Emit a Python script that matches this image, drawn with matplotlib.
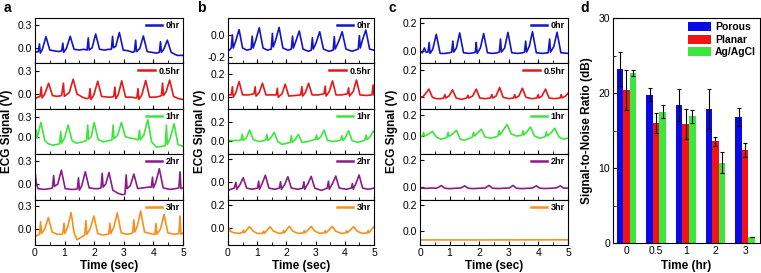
import matplotlib
matplotlib.use("Agg")
import matplotlib.pyplot as plt
from matplotlib.lines import Line2D
from matplotlib.ticker import MultipleLocator
import numpy as np

plt.rcParams['font.family'] = ['Liberation Sans', 'DejaVu Sans']
plt.rcParams['axes.unicode_minus'] = False

# ---- ECG traces, (time s, signal V) vertices ----
a_0hr = [(0.0, -0.06), (0.11, -0.05), (0.15, 0.05), (0.18, -0.07), (0.25, -0.02), (0.37, 0.145), (0.5, -0.03),
         (0.65, -0.04), (0.8, -0.05), (0.90, -0.04), (0.94, 0.06), (0.97, -0.06), (1.06, -0.01), (1.19, 0.15),
         (1.32, -0.02), (1.5, -0.03), (1.65, -0.02), (1.76, -0.03), (1.80, 0.13), (1.83, -0.03), (1.93, 0.0),
         (2.05, 0.18), (2.18, -0.02), (2.35, -0.03), (2.5, -0.02), (2.58, -0.02), (2.62, 0.15), (2.65, 0.0),
         (2.73, 0.02), (2.85, 0.20), (2.98, -0.03), (3.15, -0.04), (3.3, -0.06), (3.36, -0.05), (3.40, 0.10),
         (3.43, -0.05), (3.54, -0.01), (3.66, 0.155), (3.79, -0.05), (3.95, -0.06), (4.1, -0.07), (4.20, -0.06),
         (4.24, 0.08), (4.27, -0.06), (4.35, -0.02), (4.47, 0.10), (4.6, -0.06), (4.8, -0.10), (5.0, -0.10)]
a_05hr = [(0.0, -0.06), (0.1, -0.04), (0.17, -0.03), (0.21, 0.09), (0.24, -0.05), (0.33, 0.0), (0.46, 0.14),
          (0.59, -0.02), (0.75, -0.03), (0.9, -0.02), (0.96, 0.14), (0.99, -0.03), (1.16, 0.02), (1.29, 0.19),
          (1.42, 0.0), (1.6, -0.04), (1.75, -0.06), (1.82, -0.05), (1.86, 0.07), (1.89, -0.07), (1.99, -0.01),
          (2.12, 0.165), (2.25, -0.03), (2.45, -0.04), (2.6, -0.04), (2.66, -0.03), (2.70, 0.09), (2.73, -0.06),
          (2.81, -0.01), (2.93, 0.17), (3.06, -0.04), (3.25, -0.04), (3.4, -0.05), (3.44, -0.05), (3.48, 0.07),
          (3.51, -0.07), (3.61, -0.01), (3.74, 0.175), (3.87, -0.04), (4.05, -0.04), (4.2, -0.03), (4.27, -0.02),
          (4.31, 0.14), (4.34, -0.02), (4.43, 0.03), (4.55, 0.18), (4.68, -0.03), (4.85, -0.06), (5.0, -0.07)]
a_1hr = [(0.0, 0.0), (0.04, 0.10), (0.07, -0.02), (0.2, 0.22), (0.33, -0.06), (0.45, -0.11), (0.6, -0.13),
         (0.75, -0.12), (0.83, -0.11), (0.87, 0.08), (0.9, -0.10), (1.0, -0.02), (1.12, 0.18), (1.25, -0.06),
         (1.4, -0.1), (1.6, -0.08), (1.74, -0.06), (1.78, 0.18), (1.81, -0.04), (1.9, 0.0), (2.0, 0.22),
         (2.13, -0.04), (2.3, -0.08), (2.5, -0.06), (2.6, -0.05), (2.64, 0.18), (2.67, -0.03), (2.79, 0.02),
         (2.92, 0.22), (3.05, 0.0), (3.2, -0.02), (3.35, -0.03), (3.49, -0.05), (3.53, 0.10), (3.56, -0.05),
         (3.68, 0.03), (3.81, 0.26), (3.94, -0.08), (4.1, -0.16), (4.3, -0.15), (4.4, -0.14), (4.44, 0.18),
         (4.47, -0.12), (4.57, -0.02), (4.7, 0.20), (4.83, -0.12), (5.0, -0.15)]
a_2hr = [(0.0, 0.16), (0.04, 0.02), (0.1, -0.06), (0.3, -0.07), (0.5, -0.06), (0.59, -0.05), (0.63, 0.11),
         (0.66, -0.03), (0.77, 0.0), (0.89, 0.18), (1.02, -0.06), (1.2, -0.07), (1.35, -0.07), (1.43, -0.06),
         (1.47, 0.08), (1.5, -0.08), (1.58, -0.02), (1.70, 0.16), (1.83, -0.05), (2.0, -0.06), (2.15, -0.06),
         (2.23, -0.05), (2.27, 0.14), (2.30, -0.04), (2.39, 0.0), (2.50, 0.15), (2.63, -0.08), (2.8, -0.12),
         (2.95, -0.14), (3.04, -0.13), (3.08, 0.12), (3.11, -0.06), (3.22, -0.02), (3.34, 0.13), (3.47, -0.06),
         (3.65, -0.05), (3.85, -0.04), (3.93, -0.04), (3.97, 0.09), (4.0, -0.05), (4.08, 0.02), (4.2, 0.20),
         (4.33, -0.05), (4.55, -0.07), (4.75, -0.06), (4.86, -0.05), (4.9, 0.16), (4.93, -0.06), (5.0, -0.05)]
a_3hr = [(0.0, -0.10), (0.1, -0.08), (0.15, -0.07), (0.19, 0.095), (0.22, -0.06), (0.33, 0.0), (0.45, 0.15),
         (0.58, -0.04), (0.75, -0.07), (0.9, -0.07), (0.94, -0.06), (0.98, 0.075), (1.01, -0.06), (1.1, 0.02),
         (1.22, 0.215), (1.32, -0.05), (1.42, -0.14), (1.55, -0.11), (1.68, -0.08), (1.72, 0.11), (1.75, -0.07),
         (1.86, 0.0), (1.99, 0.17), (2.12, -0.06), (2.3, -0.08), (2.45, -0.07), (2.49, -0.07), (2.53, 0.075),
         (2.56, -0.06), (2.66, 0.02), (2.78, 0.21), (2.91, -0.05), (3.1, -0.07), (3.25, -0.06), (3.3, -0.05),
         (3.34, 0.12), (3.37, -0.04), (3.46, 0.04), (3.57, 0.235), (3.7, -0.04), (3.9, -0.06), (4.02, -0.07),
         (4.05, -0.07), (4.09, 0.07), (4.12, -0.07), (4.24, 0.0), (4.36, 0.19), (4.49, -0.05), (4.7, -0.07),
         (4.86, -0.06), (4.9, 0.17), (4.93, -0.07), (5.0, -0.05)]

b_0hr = [(0.0, -0.13), (0.05, -0.14), (0.11, -0.12), (0.15, 0.0), (0.18, -0.12), (0.26, -0.06), (0.38, 0.05),
         (0.5, -0.12), (0.65, -0.14), (0.79, -0.13), (0.83, -0.01), (0.86, -0.12), (0.95, -0.05), (1.07, 0.067),
         (1.2, -0.12), (1.35, -0.14), (1.48, -0.13), (1.52, 0.015), (1.55, -0.11), (1.63, -0.05), (1.75, 0.07),
         (1.88, -0.12), (2.05, -0.14), (2.17, -0.13), (2.21, -0.01), (2.24, -0.12), (2.32, -0.06), (2.44, 0.037),
         (2.57, -0.13), (2.75, -0.15), (2.85, -0.14), (2.89, -0.025), (2.92, -0.13), (3.02, -0.07), (3.14, 0.03),
         (3.27, -0.13), (3.45, -0.15), (3.6, -0.14), (3.64, -0.015), (3.67, -0.13), (3.79, -0.06), (3.91, 0.03),
         (4.04, -0.13), (4.25, -0.15), (4.46, -0.13), (4.5, -0.005), (4.53, -0.12), (4.6, -0.05), (4.72, 0.046),
         (4.85, -0.13), (5.0, -0.14)]
b_05hr = [(0.0, 0.02), (0.11, 0.02), (0.15, 0.09), (0.18, 0.0), (0.27, 0.04), (0.38, 0.135), (0.5, 0.02),
          (0.7, 0.02), (0.89, 0.03), (0.93, 0.09), (0.96, 0.01), (1.07, 0.04), (1.18, 0.12), (1.3, 0.02),
          (1.5, 0.02), (1.65, 0.02), (1.69, 0.077), (1.72, 0.0), (1.85, 0.03), (1.96, 0.112), (2.08, 0.01),
          (2.3, 0.015), (2.49, 0.02), (2.53, 0.09), (2.56, 0.01), (2.65, 0.04), (2.76, 0.12), (2.88, 0.02),
          (3.1, 0.02), (3.29, 0.03), (3.33, 0.095), (3.36, 0.01), (3.47, 0.05), (3.58, 0.14), (3.7, 0.02),
          (3.9, 0.02), (4.09, 0.03), (4.13, 0.08), (4.16, 0.01), (4.29, 0.05), (4.4, 0.148), (4.52, 0.02),
          (4.75, 0.015), (4.93, 0.02), (4.97, 0.105), (5.0, 0.02)]
b_1hr = [(0.0, 0.0), (0.2, 0.0), (0.4, 0.0), (0.45, 0.01), (0.49, 0.065), (0.52, 0.0), (0.63, 0.03), (0.74, 0.11),
         (0.86, 0.01), (1.05, -0.01), (1.25, 0.0), (1.29, 0.01), (1.33, 0.065), (1.36, 0.0), (1.47, 0.03),
         (1.58, 0.086), (1.7, -0.01), (1.85, -0.04), (2.0, -0.03), (2.13, -0.02), (2.17, 0.05), (2.2, -0.02),
         (2.3, 0.01), (2.41, 0.065), (2.53, -0.02), (2.75, -0.01), (2.95, 0.01), (2.99, 0.01), (3.03, 0.058),
         (3.06, 0.01), (3.18, 0.04), (3.29, 0.11), (3.41, 0.0), (3.6, -0.01), (3.82, 0.0), (3.86, 0.01),
         (3.9, 0.05), (3.93, 0.0), (4.02, 0.03), (4.13, 0.103), (4.25, 0.0), (4.45, -0.02), (4.65, 0.0),
         (4.69, 0.01), (4.73, 0.058), (4.76, 0.01), (4.87, 0.04), (4.98, 0.10), (5.0, 0.09)]
b_2hr = [(0.0, -0.07), (0.1, -0.06), (0.21, -0.05), (0.27, 0.0), (0.3, -0.06), (0.41, -0.02), (0.52, 0.04),
         (0.64, -0.05), (0.82, -0.06), (1.01, -0.05), (1.05, 0.01), (1.08, -0.06), (1.17, -0.01), (1.28, 0.062),
         (1.4, -0.05), (1.6, -0.06), (1.76, -0.05), (1.8, 0.005), (1.83, -0.06), (1.94, -0.02), (2.05, 0.049),
         (2.17, -0.05), (2.4, -0.06), (2.56, -0.05), (2.6, 0.005), (2.63, -0.06), (2.74, -0.01), (2.85, 0.052),
         (2.97, -0.05), (3.2, -0.07), (3.4, -0.05), (3.44, 0.01), (3.47, -0.06), (3.58, -0.01), (3.69, 0.055),
         (3.81, -0.05), (4.05, -0.06), (4.22, -0.05), (4.26, -0.01), (4.29, -0.06), (4.38, -0.01), (4.49, 0.064),
         (4.61, -0.05), (4.8, -0.06), (5.0, -0.05)]
b_3hr = [(0.0, 0.005), (0.08, -0.03), (0.2, -0.045), (0.4, -0.05), (0.5, -0.04), (0.53, -0.02), (0.56, -0.045),
         (0.64, -0.02), (0.74, 0.01), (0.86, -0.03), (1.0, -0.05), (1.18, -0.05), (1.22, -0.03), (1.25, -0.05),
         (1.34, -0.02), (1.44, 0.008), (1.56, -0.03), (1.75, -0.05), (1.87, -0.045), (1.9, -0.025), (1.93, -0.045),
         (2.0, -0.02), (2.1, 0.012), (2.22, -0.03), (2.4, -0.05), (2.58, -0.045), (2.61, -0.025), (2.64, -0.045),
         (2.74, -0.02), (2.85, 0.012), (2.97, -0.03), (3.15, -0.05), (3.3, -0.045), (3.33, -0.025), (3.36, -0.045),
         (3.46, -0.02), (3.57, 0.012), (3.69, -0.03), (3.88, -0.05), (4.03, -0.045), (4.06, -0.025), (4.09, -0.045),
         (4.19, -0.02), (4.3, 0.01), (4.42, -0.03), (4.6, -0.05), (4.77, -0.045), (4.8, -0.025), (4.83, -0.045),
         (4.9, -0.02), (5.0, 0.01)]

c_0hr = [(0.0, -0.01), (0.08, -0.015), (0.15, 0.02), (0.2, -0.01), (0.27, -0.01), (0.31, 0.06), (0.34, -0.02),
         (0.43, 0.01), (0.55, 0.12), (0.68, -0.02), (0.85, -0.02), (1.0, -0.015), (1.07, -0.01), (1.11, 0.07),
         (1.14, -0.01), (1.23, 0.02), (1.34, 0.13), (1.47, -0.015), (1.65, -0.02), (1.83, -0.015), (1.87, -0.01),
         (1.9, 0.06), (1.93, -0.02), (2.04, 0.02), (2.15, 0.125), (2.28, -0.015), (2.45, -0.02), (2.62, -0.015),
         (2.68, -0.01), (2.72, 0.085), (2.75, -0.01), (2.86, 0.02), (2.97, 0.134), (3.1, -0.015), (3.3, -0.02),
         (3.48, -0.015), (3.53, -0.01), (3.57, 0.07), (3.6, -0.01), (3.69, 0.03), (3.8, 0.139), (3.93, -0.015),
         (4.15, -0.02), (4.33, -0.015), (4.38, 0.085), (4.41, -0.01), (4.52, 0.03), (4.63, 0.135), (4.76, -0.015),
         (5.0, -0.02)]
c_05hr = [(0.0, 0.0), (0.1, 0.005), (0.16, 0.02), (0.3, 0.06), (0.42, 0.0), (0.55, -0.01), (0.7, -0.01),
          (0.8, -0.005), (0.84, 0.02), (0.87, -0.005), (0.98, 0.01), (1.1, 0.055), (1.22, -0.005), (1.4, -0.015),
          (1.58, -0.005), (1.62, 0.015), (1.65, -0.005), (1.78, 0.01), (1.9, 0.06), (2.02, -0.005), (2.2, -0.01),
          (2.38, -0.005), (2.43, 0.02), (2.46, -0.005), (2.57, 0.01), (2.69, 0.072), (2.81, 0.0), (3.0, -0.01),
          (3.16, -0.005), (3.2, 0.02), (3.23, -0.005), (3.34, 0.01), (3.46, 0.066), (3.58, 0.0), (3.78, -0.01),
          (3.95, -0.005), (3.99, 0.02), (4.02, -0.005), (4.12, 0.01), (4.24, 0.06), (4.36, -0.005), (4.55, -0.01),
          (4.73, -0.005), (4.77, 0.02), (4.8, -0.005), (4.92, 0.01), (5.0, 0.03)]
c_1hr = [(0.0, 0.0), (0.08, -0.005), (0.12, 0.035), (0.15, 0.0), (0.3, 0.02), (0.42, 0.045), (0.55, -0.01),
         (0.7, -0.03), (0.85, -0.02), (0.91, -0.01), (0.95, 0.035), (0.98, -0.005), (1.1, 0.02), (1.23, 0.055),
         (1.36, -0.03), (1.5, -0.04), (1.7, -0.02), (1.77, -0.01), (1.81, 0.035), (1.84, 0.0), (1.95, 0.03),
         (2.07, 0.065), (2.2, -0.01), (2.4, -0.02), (2.6, -0.005), (2.63, 0.0), (2.67, 0.05), (2.7, 0.01),
         (2.82, 0.06), (2.94, 0.11), (3.08, 0.02), (3.25, 0.0), (3.42, 0.005), (3.45, 0.01), (3.48, 0.05),
         (3.51, 0.01), (3.61, 0.04), (3.73, 0.085), (3.87, 0.0), (4.05, -0.02), (4.2, -0.01), (4.24, 0.0),
         (4.27, 0.04), (4.3, 0.0), (4.43, 0.03), (4.55, 0.075), (4.7, -0.01), (4.85, -0.03), (5.0, -0.02)]
c_2hr = [(0.0, -0.01), (0.2, -0.013), (0.4, -0.01), (0.55, -0.012), (0.62, -0.005), (0.72, 0.008), (0.84, -0.012),
         (1.0, -0.015), (1.2, -0.012), (1.38, -0.01), (1.51, 0.006), (1.63, -0.012), (1.8, -0.015), (2.0, -0.012),
         (2.2, -0.01), (2.33, 0.009), (2.45, -0.012), (2.65, -0.014), (2.85, -0.012), (3.02, -0.01), (3.14, 0.009),
         (3.26, -0.012), (3.45, -0.015), (3.65, -0.012), (3.8, -0.01), (3.93, 0.006), (4.05, -0.012), (4.25, -0.014),
         (4.45, -0.012), (4.62, -0.008), (4.74, 0.006), (4.86, -0.012), (5.0, -0.01)]
c_3hr = [(0.0, -0.073), (2.5, -0.073), (5.0, -0.072)]

hours = ['0hr', '0.5hr', '1hr', '2hr', '3hr']

# ---- SNR bars (panel d) ----
snr_times = ['0', '0.5', '1', '2', '3']
porous = [23.2, 19.8, 18.4, 17.9, 16.8]
porous_err = [2.3, 0.9, 2.1, 2.7, 1.2]
planar = [20.4, 16.0, 15.9, 13.6, 12.4]
planar_err = [2.7, 1.3, 2.0, 0.6, 0.9]
agcl = [22.7, 17.5, 16.9, 10.75, 0.9]
agcl_err = [0.4, 0.85, 0.9, 1.35, 0.0]

line_colors = ['#1414C8', '#E81818', '#3CE63C', '#8C1A8C', '#F7901E']

W, H = 761, 273
fig = plt.figure(figsize=(W / 100, H / 100), dpi=100)


def rect(left, top, right, bottom):
    return [left / W, 1 - bottom / H, (right - left) / W, (bottom - top) / H]


panels = [
    ('a', 35, 183, [a_0hr, a_05hr, a_1hr, a_2hr, a_3hr],
     [(-0.205, 0.39), (-0.19, 0.394), (-0.27, 0.43), (-0.203, 0.389), (-0.209, 0.383)],
     [[0.0, 0.3]] * 5),
    ('b', 228, 374, [b_0hr, b_05hr, b_1hr, b_2hr, b_3hr],
     [(-0.262, 0.157), (-0.099, 0.29), (-0.144, 0.334), (-0.15, 0.245), (-0.152, 0.248)],
     [[-0.2, 0.0]] + [[0.0, 0.2]] * 4),
    ('c', 420, 568, [c_0hr, c_05hr, c_1hr, c_2hr, c_3hr],
     [(-0.093, 0.239), (-0.084, 0.248), (-0.173, 0.259), (-0.097, 0.243), (-0.113, 0.245)],
     [[0.0, 0.2]] * 5),
]

top0, bot0 = 18, 245
h = (bot0 - top0) / 5

for letter, x0, x1, traces, ylims, yticks in panels:
    for k in range(5):
        ax = fig.add_axes(rect(x0, top0 + k * h, x1, top0 + (k + 1) * h))
        t, v = zip(*traces[k])
        ax.plot(t, v, color=line_colors[k], lw=1.2)
        ax.set_xlim(0, 5)
        ax.set_ylim(*ylims[k])
        ax.set_yticks(yticks[k])
        ax.set_yticklabels(['%.1f' % y for y in yticks[k]])
        ax.xaxis.set_major_locator(MultipleLocator(1))
        ax.xaxis.set_minor_locator(MultipleLocator(0.5))
        ax.tick_params(direction='in', length=3, width=0.8, labelsize=7.5, pad=2)
        ax.tick_params(which='minor', direction='in', length=2, width=0.6)
        if k < 4:
            ax.set_xticklabels([])
        for s in ax.spines.values():
            s.set_linewidth(0.8)
        handle = Line2D([], [], color=line_colors[k], lw=1.8)
        ax.legend([handle], [hours[k]], loc='upper right', frameon=False,
                  prop={'weight': 'bold', 'size': 6.5}, handlelength=1.8, handletextpad=0.4,
                  borderaxespad=0.15, borderpad=0.2)
    xc = (x0 + x1) / 2
    fig.text(xc / W, 1 - 266 / H, 'Time (sec)', ha='center', va='center', fontsize=8.5, fontweight='bold')
    fig.text((x0 - 28) / W, 1 - 131 / H, 'ECG Signal (V)', rotation=90, ha='center', va='center',
             fontsize=8.5, fontweight='bold')
    fig.text((x0 - 31) / W, 1 - 1 / H, letter, ha='left', va='top', fontsize=10, fontweight='bold')

# ---- panel d ----
axd = fig.add_axes(rect(613, 18, 760, 243.3))
x = np.arange(len(snr_times))
w = 0.22
ekw = dict(ecolor='black', elinewidth=0.8, capsize=1.6, capthick=0.8)
axd.bar(x - w, porous, w, yerr=porous_err, color='#0A0AE6', label='Porous', error_kw=ekw)
axd.bar(x, planar, w, yerr=planar_err, color='#F01414', label='Planar', error_kw=ekw)
axd.bar(x + w, agcl, w, yerr=agcl_err, color='#3CE63C', label='Ag/AgCl', error_kw=ekw)
axd.set_xlim(-0.45, 4.5)
axd.set_ylim(0, 30)
axd.set_xticks(x)
axd.set_xticklabels(snr_times)
axd.yaxis.set_major_locator(MultipleLocator(10))
axd.yaxis.set_minor_locator(MultipleLocator(5))
axd.tick_params(direction='in', length=3, width=0.8, labelsize=7.5, pad=2)
axd.tick_params(which='minor', direction='in', length=2, width=0.6)
axd.tick_params(axis='x', which='both', length=0)
for s in axd.spines.values():
    s.set_linewidth(0.8)
axd.legend(loc='upper right', frameon=False, prop={'weight': 'bold', 'size': 7.5},
           handlelength=2.2, handleheight=0.9, handletextpad=0.4, labelspacing=0.25,
           borderaxespad=0.2, borderpad=0.2)
fig.text(686 / W, 1 - 266 / H, 'Time (hr)', ha='center', va='center', fontsize=8.5, fontweight='bold')
fig.text(587 / W, 1 - 131 / H, 'Signal-to-Noise Ratio (dB)', rotation=90, ha='center', va='center',
         fontsize=8.5, fontweight='bold')
fig.text(580 / W, 1 - 1 / H, 'd', ha='left', va='top', fontsize=10, fontweight='bold')

fig.savefig('out.png', dpi=100)
